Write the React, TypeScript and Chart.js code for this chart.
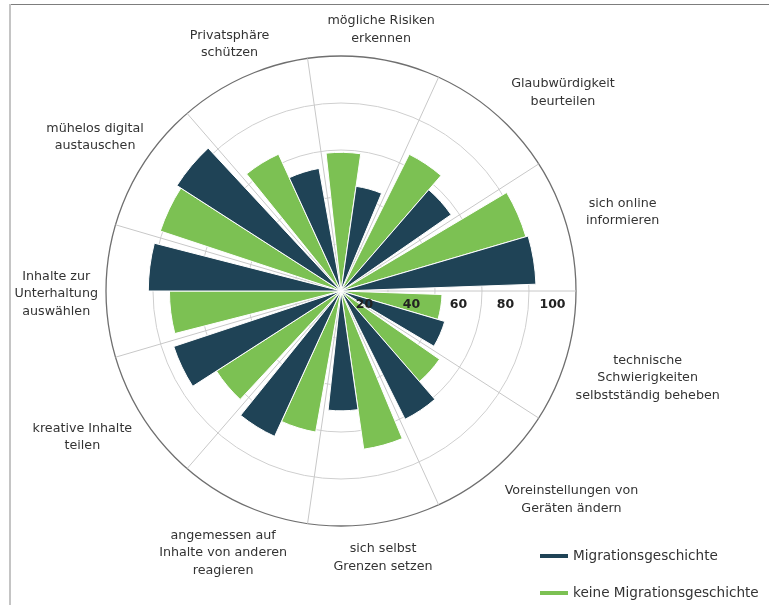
import React, { useEffect, useRef } from "react";
import { Chart, registerables } from "chart.js";

Chart.register(...registerables);

// Categories in clockwise order starting at 3 o'clock (east)
const categories: string[][] = [
  ["technische", "Schwierigkeiten", "selbstständig beheben"],
  ["Voreinstellungen von", "Geräten ändern"],
  ["sich selbst", "Grenzen setzen"],
  ["angemessen auf", "Inhalte von anderen", "reagieren"],
  ["kreative Inhalte", "teilen"],
  ["Inhalte zur", "Unterhaltung", "auswählen"],
  ["mühelos digital", "austauschen"],
  ["Privatsphäre", "schützen"],
  ["mögliche Risiken", "erkennen"],
  ["Glaubwürdigkeit", "beurteilen"],
  ["sich online", "informieren"],
];

const migration = [46, 61, 51, 68, 75, 82, 83, 53, 45, 57, 83];
const noMigration = [43, 51, 68, 61, 63, 73, 81, 64, 59, 65, 82];

const tickValues = [20, 40, 60, 80, 100];
const seriesNames = ["Migrationsgeschichte", "keine Migrationsgeschichte"];

// layout: small manual nudges of the category labels (px)
const LABEL_NUDGE: [number, number][] = [
  [0, -3], [34, -18], [4, 2], [4, -5], [-11, -13], [0, 3],
  [1, 5], [3, 4], [2, 4], [32, 21], [10, 1],
];

const DARK = "#1f4356";
const GREEN = "#7cc153";
const TEXT = "#333333";
const FONT = "'DejaVu Sans', sans-serif";
const SECTOR = 360 / categories.length;
const HALF_GAP = 2;
const BAR = (SECTOR - 2 * HALF_GAP) / 2;

function buildSlots() {
  const values: number[] = [];
  const colors: string[] = [];
  const angles: number[] = [];
  const borders: number[] = [];
  categories.forEach((_, i) => {
    values.push(0, noMigration[i], migration[i], 0);
    colors.push("rgba(0,0,0,0)", GREEN, DARK, "rgba(0,0,0,0)");
    angles.push(HALF_GAP, BAR, BAR, HALF_GAP);
    borders.push(0, 1, 1, 0);
  });
  return { values, colors, angles, borders };
}

const overlayPlugin = {
  id: "overlay",
  afterDatasetsDraw(chart: any) {
    const ctx = chart.ctx;
    const scale = chart.scales.r;
    const cx = scale.xCenter;
    const cy = scale.yCenter;
    ctx.save();
    ctx.font = `bold 12.5px ${FONT}`;
    ctx.fillStyle = "#222222";
    ctx.textAlign = "center";
    ctx.textBaseline = "middle";
    tickValues.forEach((v) => {
      const x = cx + scale.getDistanceFromCenterForValue(v - 10);
      ctx.fillText(String(v), x, cy + 14);
    });
    ctx.restore();
  },
  afterDraw(chart: any) {
    const ctx = chart.ctx;
    const scale = chart.scales.r;
    const cx = scale.xCenter;
    const cy = scale.yCenter;
    const R = scale.drawingArea;
    ctx.save();
    ctx.font = `12.7px ${FONT}`;
    ctx.fillStyle = TEXT;
    ctx.textAlign = "center";
    ctx.textBaseline = "middle";
    const LH = 17.5;
    categories.forEach((lines, i) => {
      const ang = scale.getIndexAngle(i) - Math.PI / 2 + Math.PI / categories.length;
      const w = Math.max(...lines.map((l) => ctx.measureText(l).width));
      const h = lines.length * LH;
      const c = Math.cos(ang);
      const s = Math.sin(ang);
      const d = R + 8 + (Math.abs(c) * w) / 2 + (Math.abs(s) * h) / 2;
      const x = cx + d * c + LABEL_NUDGE[i][0];
      const y = cy + d * s + LABEL_NUDGE[i][1];
      lines.forEach((l, k) => ctx.fillText(l, x, y - h / 2 + LH * (k + 0.5)));
    });
    // legend
    const colors = [DARK, GREEN];
    ctx.font = `13.6px ${FONT}`;
    ctx.textAlign = "left";
    seriesNames.forEach((name, k) => {
      const y = 556 + k * 37;
      ctx.strokeStyle = colors[k];
      ctx.lineWidth = 4;
      ctx.beginPath();
      ctx.moveTo(540, y);
      ctx.lineTo(568, y);
      ctx.stroke();
      ctx.fillStyle = TEXT;
      ctx.fillText(name, 573, y);
    });
    ctx.restore();
  },
};

export default function App() {
  const ref = useRef<HTMLCanvasElement | null>(null);
  useEffect(() => {
    if (!ref.current) return;
    const { values, colors, angles, borders } = buildSlots();
    const chart = new Chart(ref.current, {
      type: "polarArea",
      data: {
        labels: categories.map((c) => c.join(" ")),
        datasets: [
          {
            data: values,
            backgroundColor: colors,
            borderColor: "#ffffff",
            borderWidth: borders,
            angle: (c: any) => angles[c.dataIndex],
          } as any,
        ],
      },
      options: {
        responsive: true,
        maintainAspectRatio: false,
        animation: false,
        layout: { padding: { left: 106, top: 56, right: 193, bottom: 79 } },
        plugins: { legend: { display: false }, tooltip: { enabled: false } },
        scales: {
          r: {
            min: 0,
            max: 100,
            startAngle: 90,
            ticks: { display: false, stepSize: 20 },
            grid: {
              circular: true,
              color: (c: any) => (c.tick && c.tick.value === 100 ? "#6f6f6f" : "#cfcfcf"),
              lineWidth: (c: any) => (c.tick && c.tick.value === 100 ? 1.3 : 1),
            },
            angleLines: { display: true, color: "#c8c8c8", lineWidth: 1 },
            pointLabels: { display: false },
          } as any,
        },
      } as any,
      plugins: [overlayPlugin],
    });
    return () => chart.destroy();
  }, []);
  return (
    <div style={{ position: "fixed", left: 0, top: 0, width: 769, height: 605, background: "#fff" }}>
      <div style={{ position: "absolute", left: 9, top: 4, right: 0, height: 0, borderTop: "1.5px solid #7d7d7d" }} />
      <div style={{ position: "absolute", left: 9, top: 4, bottom: 0, width: 0, borderLeft: "2px solid #c4c4c4" }} />
      <canvas ref={ref} />
    </div>
  );
}
